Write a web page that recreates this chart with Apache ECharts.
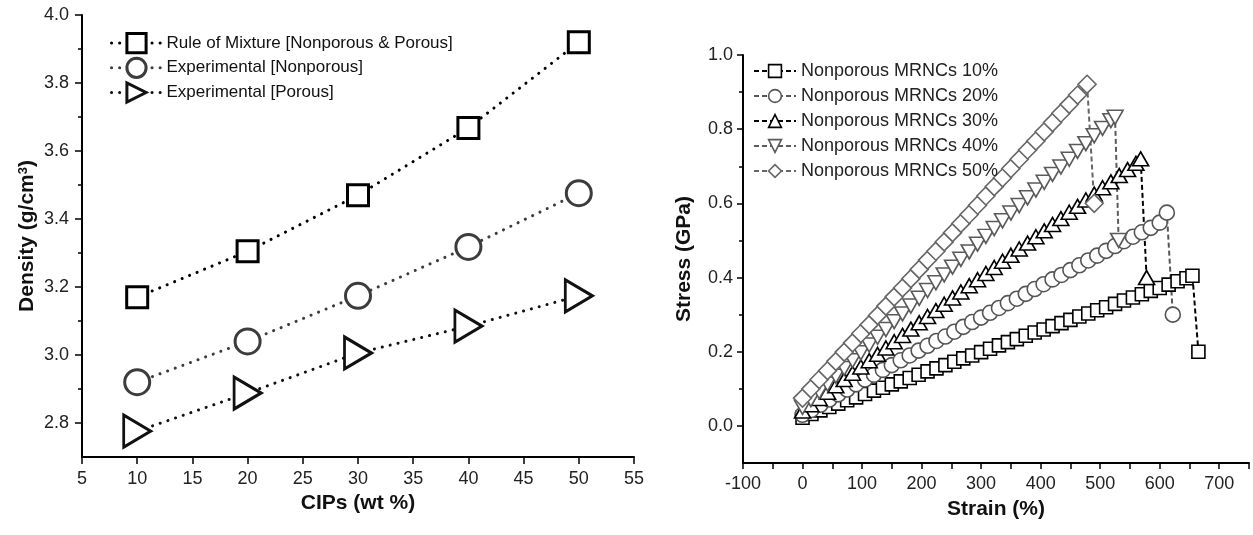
<!DOCTYPE html>
<html><head><meta charset="utf-8">
<script src="https://cdn.jsdelivr.net/npm/echarts@6/dist/echarts.min.js"></script>
<style>html,body{margin:0;padding:0;background:#fff}#c{width:1253px;height:535px}</style>
</head><body><div id="c"></div><script>
const FONT = '"Liberation Sans", Arial, Helvetica, sans-serif';

// ---------- Left chart: density vs CIPs content ----------
const cipsWt = [10, 20, 30, 40, 50];
const densityRuleOfMixture = [3.17, 3.305, 3.47, 3.668, 3.92];
const densityExpNonporous = [2.92, 3.04, 3.174, 3.318, 3.476];
const densityExpPorous = [2.776, 2.888, 3.006, 3.085, 3.174];
const densityMajorTicks = [2.8, 3.0, 3.2, 3.4, 3.6, 3.8, 4.0];
const densityMinorTicks = [2.9, 3.1, 3.3, 3.5, 3.7, 3.9];
const leftNames = ['Rule of Mixture [Nonporous & Porous]', 'Experimental [Nonporous]', 'Experimental [Porous]'];

// ---------- Right chart: stress-strain ----------
const strain10 = [0,15,30,45,60,75,90,105,120,135,150,165,180,195,210,225,240,255,270,285,300,315,330,345,360,375,390,405,420,435,450,465,480,495,510,525,540,555,570,585,600,615,630,645,655,665];
const stress10 = [0.022,0.032,0.042,0.051,0.060,0.069,0.077,0.086,0.095,0.103,0.112,0.120,0.129,0.138,0.147,0.155,0.164,0.173,0.182,0.190,0.199,0.208,0.217,0.226,0.234,0.243,0.252,0.260,0.269,0.277,0.286,0.295,0.303,0.312,0.320,0.329,0.338,0.346,0.355,0.364,0.372,0.381,0.390,0.398,0.405,0.200];

const strain20 = [0,15,30,45,60,75,90,105,120,135,150,165,180,195,210,225,240,255,270,285,300,315,330,345,360,375,390,405,420,435,450,465,480,495,510,525,540,555,570,585,600,612,622];
const stress20 = [0.030,0.043,0.057,0.071,0.085,0.098,0.112,0.125,0.138,0.151,0.164,0.177,0.190,0.203,0.216,0.229,0.241,0.254,0.267,0.280,0.292,0.305,0.318,0.331,0.343,0.356,0.369,0.382,0.395,0.407,0.420,0.433,0.446,0.459,0.472,0.485,0.498,0.510,0.522,0.534,0.548,0.575,0.300];

const strain30 = [0,14,28,42,56,70,84,98,112,126,140,154,168,182,196,210,224,238,252,266,280,294,308,322,336,350,364,378,392,406,420,434,448,462,476,490,504,518,532,546,560,568,578];
const stress30 = [0.040,0.057,0.074,0.091,0.108,0.125,0.142,0.159,0.176,0.193,0.210,0.227,0.244,0.261,0.278,0.295,0.311,0.328,0.345,0.361,0.378,0.394,0.411,0.427,0.444,0.460,0.477,0.493,0.510,0.526,0.543,0.559,0.576,0.592,0.609,0.625,0.642,0.658,0.675,0.691,0.708,0.720,0.400];

const strain40 = [0,14,28,42,56,70,84,98,112,126,140,154,168,182,196,210,224,238,252,266,280,294,308,322,336,350,364,378,392,406,420,434,448,462,476,490,504,518,525,531];
const stress40 = [0.050,0.071,0.092,0.113,0.134,0.155,0.176,0.197,0.218,0.239,0.260,0.281,0.302,0.323,0.344,0.365,0.386,0.407,0.428,0.449,0.469,0.490,0.511,0.532,0.553,0.574,0.594,0.615,0.636,0.657,0.678,0.698,0.719,0.740,0.761,0.782,0.802,0.823,0.832,0.500];

const strain50 = [0,14,28,42,56,70,84,98,112,126,140,154,168,182,196,210,224,238,252,266,280,294,308,322,336,350,364,378,392,406,420,434,448,462,478,490];
const stress50 = [0.075,0.100,0.125,0.149,0.174,0.199,0.224,0.249,0.273,0.298,0.323,0.348,0.372,0.397,0.422,0.447,0.471,0.496,0.521,0.546,0.570,0.595,0.620,0.645,0.669,0.694,0.719,0.744,0.768,0.793,0.818,0.843,0.867,0.892,0.921,0.600];

const stressMajorTicks = [0.0, 0.2, 0.4, 0.6, 0.8, 1.0];
const stressMinorTicks = [0.1, 0.3, 0.5, 0.7, 0.9];
const rightNames = ['Nonporous MRNCs 10%', 'Nonporous MRNCs 20%', 'Nonporous MRNCs 30%', 'Nonporous MRNCs 40%', 'Nonporous MRNCs 50%'];

const pairs = (xs, ys) => xs.map((x, i) => [x, ys[i]]);

const axisLineStyle = { color: '#000', width: 2 };
const labelStyle = { fontFamily: FONT, fontSize: 18, color: '#222' };
const nameStyle = { fontFamily: FONT, fontSize: 21, fontWeight: 'bold', color: '#111' };

const dotted = (c) => ({ color: c, width: 3, type: [0.1, 8], cap: 'round' });
const dashed = (c) => ({ color: c, width: 2, type: [5, 3] });

const leftColors = ['#000', '#3c3c3c', '#111'];
const rightColors = ['#000', '#555', '#000', '#5a5a5a', '#666'];

const leftSeries = [
  { name: leftNames[0], data: pairs(cipsWt, densityRuleOfMixture), symbol: 'rect', symbolSize: 21 },
  { name: leftNames[1], data: pairs(cipsWt, densityExpNonporous), symbol: 'circle', symbolSize: 25 },
  { name: leftNames[2], data: pairs(cipsWt, densityExpPorous), symbol: 'triangle', symbolSize: [32, 27], rot: -90 }
].map((s, i) => ({
  type: 'line', name: s.name, xAxisIndex: 0, yAxisIndex: 0, data: s.data,
  symbol: s.symbol, symbolSize: s.symbolSize, symbolRotate: s.rot || 0,
  itemStyle: { color: '#fff', borderColor: leftColors[i], borderWidth: 3 },
  lineStyle: dotted(leftColors[i]), emphasis: { disabled: true }, z: 3
}));

const rightSeries = [
  { name: rightNames[0], x: strain10, y: stress10, symbol: 'rect', size: 13 },
  { name: rightNames[1], x: strain20, y: stress20, symbol: 'circle', size: 15 },
  { name: rightNames[2], x: strain30, y: stress30, symbol: 'triangle', size: [16, 14] },
  { name: rightNames[3], x: strain40, y: stress40, symbol: 'triangle', size: [16, 14], rot: 180 },
  { name: rightNames[4], x: strain50, y: stress50, symbol: 'diamond', size: 18 }
].map((s, i) => ({
  type: 'line', name: s.name, xAxisIndex: 1, yAxisIndex: 2, data: pairs(s.x, s.y),
  symbol: s.symbol, symbolSize: s.size, symbolRotate: s.rot || 0,
  itemStyle: { color: '#fff', borderColor: rightColors[i], borderWidth: 1.6 },
  lineStyle: dashed(rightColors[i]), emphasis: { disabled: true }, z: 3
}));

const fmt1 = v => Number(v).toFixed(1);

const option = {
  animation: false,
  backgroundColor: '#fff',
  textStyle: { fontFamily: FONT },
  grid: [
    { left: 82, top: 15, width: 552, height: 442 },
    { left: 743, top: 55, width: 506, height: 408 }
  ],
  legend: [
    {
      orient: 'vertical', left: 105, top: 27, itemWidth: 50, itemHeight: 24, itemGap: 2.5,
      data: leftNames.map((n, i) => ({ name: n, lineStyle: dotted(leftColors[i]), itemStyle: { color: '#fff', borderColor: leftColors[i], borderWidth: 3 } })),
      textStyle: { fontFamily: FONT, fontSize: 17, color: '#111' }, selectedMode: false
    },
    {
      orient: 'vertical', left: 748, top: 57, itemWidth: 42, itemHeight: 16, itemGap: 7,
      data: rightNames.map((n, i) => ({ name: n, lineStyle: dashed(rightColors[i]), itemStyle: { color: '#fff', borderColor: rightColors[i], borderWidth: 1.6 } })),
      textStyle: { fontFamily: FONT, fontSize: 18, color: '#222' }, selectedMode: false
    }
  ],
  xAxis: [
    {
      gridIndex: 0, type: 'value', min: 5, max: 55, interval: 5, position: 'bottom',
      axisLine: { onZero: false, lineStyle: axisLineStyle }, axisTick: { length: 7, lineStyle: { color: '#000', width: 1.5 } },
      axisLabel: Object.assign({ margin: 13 }, labelStyle), splitLine: { show: false },
      name: 'CIPs (wt %)', nameLocation: 'middle', nameGap: 36, nameTextStyle: nameStyle
    },
    {
      gridIndex: 1, type: 'value', min: -100, max: 750, interval: 50, position: 'bottom',
      axisLine: { onZero: false, lineStyle: axisLineStyle }, axisTick: { length: 6, lineStyle: { color: '#000', width: 1.5 } },
      axisLabel: Object.assign({ margin: 12, formatter: v => (v % 100 === 0 ? String(v) : '') }, labelStyle),
      splitLine: { show: false },
      name: 'Strain (%)', nameLocation: 'middle', nameGap: 36, nameTextStyle: nameStyle
    }
  ],
  yAxis: [
    {
      gridIndex: 0, type: 'value', min: 2.7, max: 4.0, position: 'left',
      axisLine: { onZero: false, lineStyle: axisLineStyle },
      axisTick: { length: 7, customValues: densityMajorTicks, lineStyle: { color: '#000', width: 1.5 } },
      axisLabel: Object.assign({ margin: 13, customValues: densityMajorTicks, formatter: fmt1 }, labelStyle),
      splitLine: { show: false },
      name: 'Density (g/cm{sup|3})', nameLocation: 'middle', nameGap: 44, nameRotate: 90,
      nameTextStyle: Object.assign({ rich: { sup: { fontFamily: FONT, fontSize: 13, fontWeight: 'bold', color: '#111', verticalAlign: 'top', padding: [0, 0, 8, 0] } } }, nameStyle)
    },
    {
      gridIndex: 0, type: 'value', min: 2.7, max: 4.0, position: 'left', offset: 0,
      axisLine: { show: false, onZero: false },
      axisTick: { length: 4, customValues: densityMinorTicks, lineStyle: { color: '#000', width: 1.5 } },
      axisLabel: { show: false }, splitLine: { show: false }
    },
    {
      gridIndex: 1, type: 'value', min: -0.1, max: 1.0, position: 'left',
      axisLine: { onZero: false, lineStyle: axisLineStyle },
      axisTick: { length: 6, customValues: stressMajorTicks, lineStyle: { color: '#000', width: 1.5 } },
      axisLabel: Object.assign({ margin: 10, customValues: stressMajorTicks, formatter: fmt1 }, labelStyle),
      splitLine: { show: false },
      name: 'Stress (GPa)', nameLocation: 'middle', nameGap: 48, nameRotate: 90, nameTextStyle: nameStyle
    },
    {
      gridIndex: 1, type: 'value', min: -0.1, max: 1.0, position: 'left', offset: 0,
      axisLine: { show: false, onZero: false },
      axisTick: { length: 4, customValues: stressMinorTicks, lineStyle: { color: '#000', width: 1.5 } },
      axisLabel: { show: false }, splitLine: { show: false }
    }
  ],
  series: leftSeries.concat(rightSeries)
};

const chart = echarts.init(document.getElementById('c'), null, { renderer: 'canvas' });
chart.setOption(option);
</script></body></html>
